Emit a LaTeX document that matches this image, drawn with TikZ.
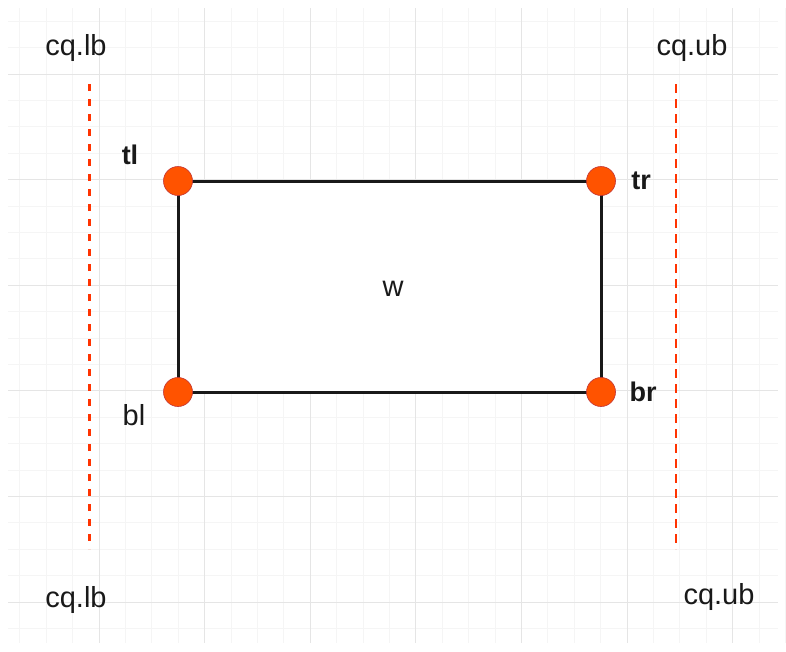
\documentclass[tikz,border=0pt]{standalone}
\usepackage{fontspec}
\setmainfont{Liberation Sans}
\begin{document}
\begin{tikzpicture}[x=1pt,y=-1pt,
  minorgrid/.style={draw=black!4,line width=0.8pt},
  majorgrid/.style={draw=black!10,line width=1pt},
  corner/.style={circle,fill=orange!65!red,draw=red!70!black!80,line width=0.6pt,minimum size=29pt,inner sep=0pt},
  bound/.style={draw=red!60!orange,line width=3pt,dash pattern=on 7pt off 8pt},
  lbl/.style={font=\fontsize{29}{31}\selectfont,text=black!90,inner sep=0pt},
  clbl/.style={font=\fontsize{27}{30}\selectfont\bfseries,text=black!90,inner sep=0pt},
  edge/.style={draw=black!90,line width=3pt}]
\useasboundingbox (0,0) rectangle (786,651);
\fill[white] (0,0) rectangle (786,651);
% grid
\foreach \i in {0,...,29} {
  \pgfmathsetmacro{\gx}{19.8+\i*26.4}
  \draw[minorgrid] (\gx,8) -- (\gx,643);
}
\foreach \i in {0,...,24} {
  \pgfmathsetmacro{\gy}{21.2+\i*26.4}
  \draw[minorgrid] (8,\gy) -- (778,\gy);
}
\foreach \gx in {99,204.6,310.2,415.8,521.4,627,732.6}
  \draw[majorgrid] (\gx,8) -- (\gx,643);
\foreach \gy in {74,179.6,285.2,390.8,496.4,602}
  \draw[majorgrid] (8,\gy) -- (778,\gy);
% box
\coordinate (tlp) at (178,181);
\coordinate (trp) at (601,181);
\coordinate (blp) at (178,392);
\coordinate (brp) at (601,392);
\fill[white] (tlp) rectangle (brp);
\draw[edge] (tlp) -- (trp) -- (brp) -- (blp) -- cycle;
\node[corner] (tl) at (tlp) {};
\node[corner] (tr) at (trp) {};
\node[corner] (bl) at (blp) {};
\node[corner] (br) at (brp) {};
\node[lbl] (w) at (393,289) {w};
% bounds
\coordinate (lbtop) at (89,84);
\coordinate (lbbot) at (89,549);
\coordinate (ubtop) at (676,84);
\coordinate (ubbot) at (676,549);
\draw[bound] (lbtop) -- (lbbot);
\draw[bound,line width=2.6pt,dash pattern=on 9pt off 6pt] (ubtop) -- (ubbot);
% labels
\node[lbl] (lbt) at (76,48) {cq.lb};
\node[lbl] (ubt) at (692,48) {cq.ub};
\node[lbl] (lbb) at (76,600) {cq.lb};
\node[lbl] (ubb) at (719,597) {cq.ub};
\node[clbl] (tlt) at (130,155) {tl};
\node[clbl] (trt) at (641,181) {tr};
\node[lbl] (blt) at (134,415) {bl};
\node[clbl] (brt) at (643,392) {br};
\end{tikzpicture}
\end{document}
